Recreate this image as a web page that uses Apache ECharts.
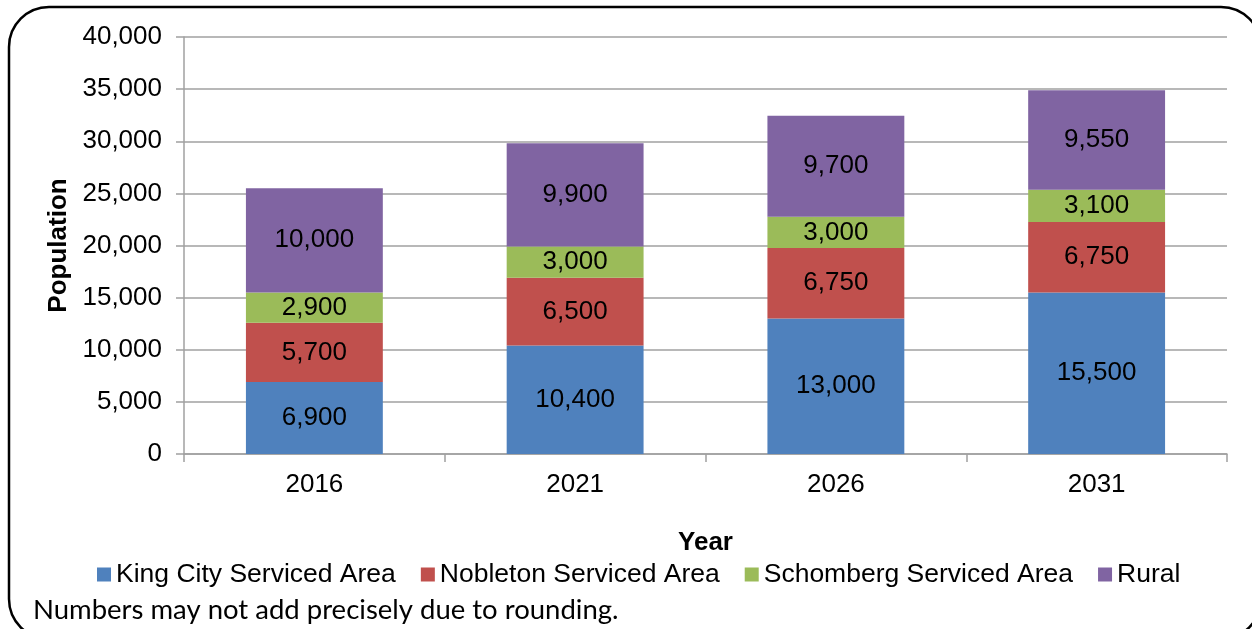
<!DOCTYPE html>
<html>
<head>
<meta charset="utf-8">
<script src="https://cdn.jsdelivr.net/npm/echarts@6/dist/echarts.min.js"></script>
<style>
  html, body { margin: 0; padding: 0; background: #fff; }
  #chart { width: 1252px; height: 629px; }
</style>
</head>
<body>
<div id="chart"></div>
<script>
// data
const years = ["2016", "2021", "2026", "2031"];
const kingCity = [6900, 10400, 13000, 15500];
const nobleton = [5700, 6500, 6750, 6750];
const schomberg = [2900, 3000, 3000, 3100];
const rural = [10000, 9900, 9700, 9550];
const seriesNames = ["King City Serviced Area", "Nobleton Serviced Area", "Schomberg Serviced Area", "Rural"];
const colors = ["#4F81BD", "#C0504D", "#9BBB59", "#8064A2"];

const fmt = (v) => v.toLocaleString("en-US");
const font = "'Liberation Sans', Arial, sans-serif";

const chart = echarts.init(document.getElementById("chart"));

const makeSeries = (name, data, color) => ({
  name: name,
  type: "bar",
  stack: "total",
  data: data,
  barWidth: "52.5%",
  itemStyle: { color: color },
  label: {
    show: true,
    position: "inside",
    color: "#000",
    fontFamily: font,
    fontSize: 26,
    formatter: (p) => fmt(p.value)
  }
});

const option = {
  animation: false,
  grid: { left: 184, right: 25, top: 37, bottom: 175, containLabel: false },
  legend: {
    bottom: 36,
    left: 92,
    itemWidth: 14,
    itemHeight: 14,
    itemGap: 25,
    icon: "rect",
    textStyle: { fontFamily: font, fontSize: 26.5, color: "#000" },
    data: seriesNames
  },
  xAxis: {
    type: "category",
    data: years,
    name: "Year",
    nameLocation: "middle",
    nameGap: 76,
    nameTextStyle: { fontFamily: font, fontSize: 26, fontWeight: "bold", color: "#000" },
    axisLine: { lineStyle: { color: "#A0A0A0", width: 1.5 } },
    axisTick: { show: true, length: 8, lineStyle: { color: "#A0A0A0", width: 1.5 } },
    axisLabel: { fontFamily: font, fontSize: 26, color: "#000", margin: 18 }
  },
  yAxis: {
    type: "value",
    min: 0,
    max: 40000,
    interval: 5000,
    name: "Population",
    nameLocation: "middle",
    nameGap: 112,
    nameRotate: 90,
    nameTextStyle: { fontFamily: font, fontSize: 26, fontWeight: "bold", color: "#000" },
    axisLine: { show: true, lineStyle: { color: "#A0A0A0", width: 1.5 } },
    axisTick: { show: true, length: 8, lineStyle: { color: "#A0A0A0", width: 1.5 } },
    splitLine: { lineStyle: { color: "#A0A0A0", width: 1.5 } },
    axisLabel: { fontFamily: font, fontSize: 26, color: "#000", margin: 22, formatter: (v) => fmt(v) }
  },
  graphic: [
    {
      type: "rect",
      shape: { x: 9, y: 7, width: 1252, height: 632, r: 40 },
      style: { fill: "none", stroke: "#000", lineWidth: 2.5 },
      silent: true
    },
    {
      type: "text",
      left: 33,
      top: 596,
      style: { text: "Numbers may not add precisely due to rounding.", fontFamily: "Lato, 'Open Sans', sans-serif", fontSize: 27.5, fill: "#000" }
    }
  ],
  series: [
    makeSeries(seriesNames[0], kingCity, colors[0]),
    makeSeries(seriesNames[1], nobleton, colors[1]),
    makeSeries(seriesNames[2], schomberg, colors[2]),
    makeSeries(seriesNames[3], rural, colors[3])
  ]
};

chart.setOption(option);
</script>
</body>
</html>
